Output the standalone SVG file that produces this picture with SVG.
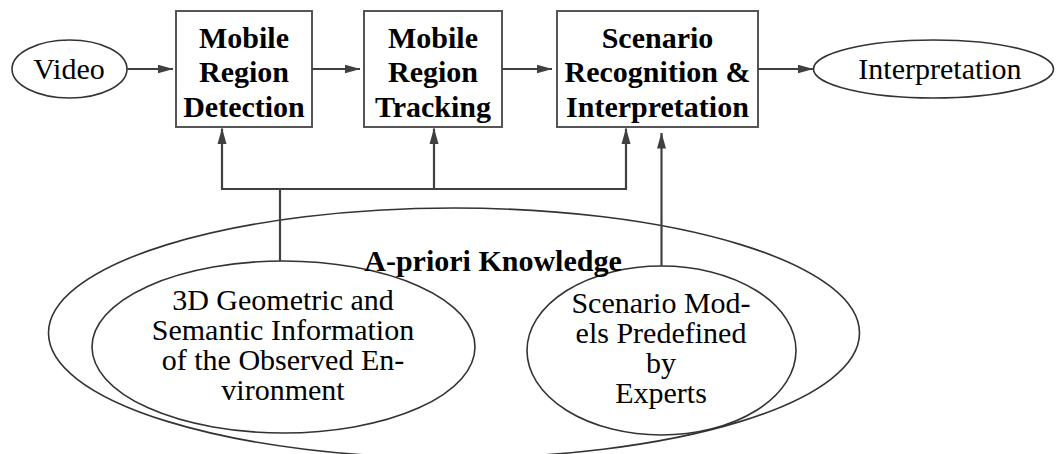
<svg xmlns="http://www.w3.org/2000/svg" width="1056" height="454" viewBox="0 0 1056 454">
<style>
  .box { fill: #ffffff; stroke: #555555; stroke-width: 2; }
  .ell { fill: none; stroke: #333333; stroke-width: 1.6; }
  .conn { fill: none; stroke: #404040; stroke-width: 2.2; }
  .bt { font-family: "Liberation Serif", "Times New Roman", serif; font-weight: bold; font-size: 30px; fill: #000; text-anchor: middle; }
  .rt { font-family: "Liberation Serif", "Times New Roman", serif; font-size: 30px; fill: #000; text-anchor: middle; }
</style>
<defs>
  <marker id="ah" markerWidth="16" markerHeight="10" refX="15.5" refY="5" orient="auto" markerUnits="userSpaceOnUse">
    <path d="M0,0.5 L16,5 L0,9.5 Z" fill="#404040"/>
  </marker>
</defs>

<g id="knowledge">
  <ellipse class="ell" cx="454" cy="333" rx="405.5" ry="125"/>
</g>
<g id="geometric">
  <ellipse class="ell" cx="283.5" cy="347" rx="191.5" ry="86"/>
  <text class="rt" x="283" y="309.5">3D Geometric and</text>
  <text class="rt" x="283" y="339.5">Semantic Information</text>
  <text class="rt" x="283" y="369.5">of the Observed En-</text>
  <text class="rt" x="283" y="399.5">vironment</text>
</g>
<g id="scenario-models">
  <ellipse class="ell" cx="661.5" cy="350.5" rx="134.5" ry="84.5"/>
  <text class="rt" x="661" y="312.5">Scenario Mod-</text>
  <text class="rt" x="661" y="342.5">els Predefined</text>
  <text class="rt" x="661" y="372.5">by</text>
  <text class="rt" x="661" y="402.5">Experts</text>
</g>
<g id="knowledge-label">
  <text class="bt" x="493" y="271">A-priori Knowledge</text>
</g>

<g id="video">
  <ellipse class="ell" cx="69.5" cy="69" rx="57.5" ry="29"/>
  <text class="rt" x="69" y="79">Video</text>
</g>
<g id="detection">
  <rect class="box" x="176" y="11" width="136" height="116"/>
  <text class="bt" x="244" y="48">Mobile</text>
  <text class="bt" x="244" y="82">Region</text>
  <text class="bt" x="244" y="116.5">Detection</text>
</g>
<g id="tracking">
  <rect class="box" x="364" y="11" width="138" height="116"/>
  <text class="bt" x="433" y="48">Mobile</text>
  <text class="bt" x="433" y="82">Region</text>
  <text class="bt" x="433" y="116.5">Tracking</text>
</g>
<g id="recognition">
  <rect class="box" x="557" y="11" width="201" height="116"/>
  <text class="bt" x="657.5" y="48">Scenario</text>
  <text class="bt" x="657.5" y="82">Recognition &amp;</text>
  <text class="bt" x="657.5" y="116.5">Interpretation</text>
</g>
<g id="interpretation">
  <ellipse class="ell" cx="933.5" cy="69" rx="120" ry="29"/>
  <text class="rt" x="940" y="79">Interpretation</text>
</g>

<g id="connectors">
  <line class="conn" x1="127" y1="69" x2="173" y2="69" marker-end="url(#ah)"/>
  <line class="conn" x1="312" y1="69" x2="360" y2="69" marker-end="url(#ah)"/>
  <line class="conn" x1="502" y1="69" x2="552" y2="69" marker-end="url(#ah)"/>
  <line class="conn" x1="758" y1="69" x2="813" y2="69" marker-end="url(#ah)"/>
  <polyline class="conn" points="280,261 280,189"/>
  <polyline class="conn" points="222,189 626,189"/>
  <line class="conn" x1="222" y1="190" x2="222" y2="128.5" marker-end="url(#ah)"/>
  <line class="conn" x1="434" y1="190" x2="434" y2="128.5" marker-end="url(#ah)"/>
  <line class="conn" x1="626" y1="190" x2="626" y2="128.5" marker-end="url(#ah)"/>
  <line class="conn" x1="661.5" y1="266" x2="661.5" y2="133" marker-end="url(#ah)"/>
</g>
</svg>
